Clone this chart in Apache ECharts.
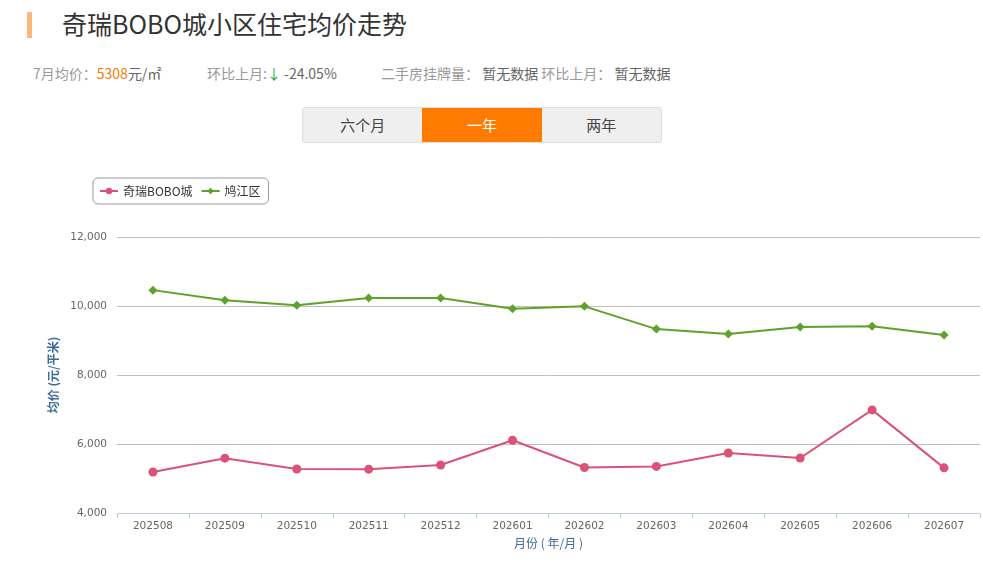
<!DOCTYPE html>
<html>
  <head>
    <meta charset="UTF-8">
    <title>奇瑞BOBO城小区住宅均价走势</title>
    <style>
      body { margin: 0; width: 983px; height: 567px; background: #fff; font-family: "Noto Sans CJK SC", "Noto Sans", sans-serif; position: relative; overflow: hidden; }
      .bar { position: absolute; left: 27px; top: 12px; width: 5px; height: 26px; background: #fbb77c; }
      .title { position: absolute; left: 62px; top: 5px; font-size: 25px; color: #333; }
      .info { position: absolute; top: 63px; font-size: 14px; color: #999; white-space: nowrap; }
      .info .num { color: #f57d00; }
      .info .down { color: #2aa84a; }
      .info .dark { color: #666; }
      .tabs { position: absolute; left: 302px; top: 107px; width: 358px; height: 34px; border: 1px solid #ddd; border-radius: 3px; background: #efefef; display: flex; }
      .tabs div { width: 120px; line-height: 34px; text-align: center; font-size: 15px; color: #444; }
      .tabs .on { background: #ff7c00; color: #fff; }
      #main { position: absolute; left: 0; top: 160px; width: 983px; height: 407px; }
    </style>
  </head>
  <body>
    <script src="https://cdn.jsdelivr.net/npm/echarts@6/dist/echarts.min.js"></script>
    <div class="bar"></div>
    <div class="title">奇瑞BOBO城小区住宅均价走势</div>
    <div class="info" style="left:33px;">7月均价：<span class="num">5308</span><span class="dark">元/㎡</span></div>
    <div class="info" style="left:207px;">环比上月:<span class="down">↓</span> <span class="dark">-24.05%</span></div>
    <div class="info" style="left:381px;">二手房挂牌量： <span class="dark">暂无数据</span> 环比上月： <span class="dark">暂无数据</span></div>
    <div class="tabs">
      <div>六个月</div>
      <div class="on">一年</div>
      <div>两年</div>
    </div>
    <div id="main"></div>
    <script>
var months = ['202508', '202509', '202510', '202511', '202512', '202601', '202602', '202603', '202604', '202605', '202606', '202607'];
var bobo = [5190, 5590, 5275, 5270, 5390, 6110, 5320, 5350, 5740, 5595, 6989, 5308];
var jiujiang = [10460, 10170, 10020, 10230, 10230, 9920, 9990, 9330, 9185, 9390, 9415, 9160];
var yTicks = [4000, 12000, 2000];

var chartDom = document.getElementById('main');
var myChart = echarts.init(chartDom);

var option = {
    animation: false,
    textStyle: { fontFamily: '"Noto Sans CJK SC", sans-serif' },
    legend: {
        left: 93,
        top: 18,
        padding: [7, 8, 7, 6],
        borderColor: '#999',
        borderWidth: 1,
        borderRadius: 5,
        itemGap: 8,
        itemWidth: 18,
        itemHeight: 8,
        textStyle: { color: '#333', fontSize: 12 },
        data: ['奇瑞BOBO城', '鸠江区']
    },
    grid: {
        left: 117,
        right: 3,
        top: 77,
        bottom: 54
    },
    xAxis: {
        type: 'category',
        data: months,
        boundaryGap: true,
        name: '月份 ( 年/月 )',
        nameLocation: 'middle',
        nameGap: 24,
        nameTextStyle: { color: '#3e6a9a', fontSize: 12 },
        axisLine: { lineStyle: { color: '#c0d0e0' } },
        axisTick: { show: true, length: 5, lineStyle: { color: '#c0d0e0' } },
        axisLabel: { color: '#666', fontSize: 10.5, fontFamily: '"DejaVu Sans", sans-serif', margin: 8 }
    },
    yAxis: {
        type: 'value',
        min: yTicks[0],
        max: yTicks[1],
        interval: yTicks[2],
        name: '均价 (元/平米)',
        nameLocation: 'middle',
        nameGap: 56,
        nameTextStyle: { color: '#3e6a9a', fontSize: 12, fontWeight: 'bold' },
        axisLine: { show: false },
        axisTick: { show: false },
        axisLabel: {
            color: '#666',
            fontSize: 10.5,
            fontFamily: '"DejaVu Sans", sans-serif',
            margin: 10,
            formatter: function (v) { return v.toLocaleString('en-US'); }
        },
        splitLine: { lineStyle: { color: '#c0c0c0' } }
    },
    series: [
        {
            name: '奇瑞BOBO城',
            type: 'line',
            data: bobo,
            symbol: 'circle',
            symbolSize: 9,
            itemStyle: { color: '#db5278' },
            lineStyle: { width: 2, color: '#db5278' }
        },
        {
            name: '鸠江区',
            type: 'line',
            data: jiujiang,
            symbol: 'diamond',
            symbolSize: 9,
            itemStyle: { color: '#5fa22b' },
            lineStyle: { width: 2, color: '#5fa22b' }
        }
    ]
};

myChart.setOption(option);
    </script>
  </body>
</html>
